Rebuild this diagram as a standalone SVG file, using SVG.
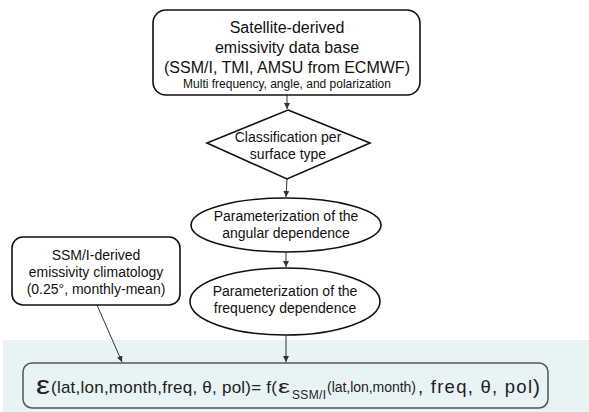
<svg xmlns="http://www.w3.org/2000/svg" width="589" height="412" viewBox="0 0 589 412">
<style>
text{font-family:"Liberation Sans",Arial,sans-serif;fill:#111;text-anchor:middle}
.shape{fill:#fff;stroke:#111;stroke-width:1.6}
.conn{stroke:#333;stroke-width:1;fill:none}
.t16{font-size:16px}
.t14{font-size:14px}
.t12{font-size:12px}
.eq{text-anchor:start;fill:#222}
</style>
<defs>
<marker id="ah" viewBox="0 0 10 10" refX="10" refY="5" markerWidth="6" markerHeight="6" orient="auto" markerUnits="userSpaceOnUse">
<path d="M0,0 L10,5 L0,10 z" fill="#333"/>
</marker>
</defs>
<rect x="3" y="340" width="586" height="72" fill="#e7f3f5"/>
<g id="connectors">
<line class="conn" x1="287" y1="95" x2="287" y2="109" marker-end="url(#ah)"/>
<line class="conn" x1="287" y1="179" x2="286" y2="197" marker-end="url(#ah)"/>
<line class="conn" x1="286" y1="252" x2="286" y2="267" marker-end="url(#ah)"/>
<line class="conn" x1="286" y1="335" x2="286" y2="362" marker-end="url(#ah)" stroke="#555"/>
<line class="conn" x1="97" y1="305" x2="122" y2="362" marker-end="url(#ah)" stroke="#555"/>
</g>
<g id="source">
<rect class="shape" x="153" y="10" width="267" height="85" rx="13"/>
<text class="t16" x="287" y="33">Satellite-derived</text>
<text class="t16" x="287" y="53">emissivity data base</text>
<text class="t16" x="287" y="73">(SSM/I, TMI, AMSU from ECMWF)</text>
<text class="t12" x="287" y="88">Multi frequency, angle, and polarization</text>
</g>
<g id="classification">
<polygon class="shape" points="288,110 370,143 287,179 207,143"/>
<text class="t14" x="288" y="142">Classification per</text>
<text class="t14" x="288" y="159">surface type</text>
</g>
<g id="angular">
<ellipse class="shape" cx="286" cy="225" rx="95" ry="27"/>
<text class="t14" x="286" y="221">Parameterization of the</text>
<text class="t14" x="286" y="238">angular dependence</text>
</g>
<g id="frequency">
<ellipse class="shape" cx="285" cy="301.5" rx="95" ry="33.5"/>
<text class="t14" x="285" y="296">Parameterization of the</text>
<text class="t14" x="285" y="313">frequency dependence</text>
</g>
<g id="climatology">
<rect class="shape" x="12" y="237" width="168" height="68" rx="11"/>
<text class="t14" x="96" y="260">SSM/I-derived</text>
<text class="t14" x="96" y="277">emissivity climatology</text>
<text class="t14" x="96" y="294">(0.25°, monthly-mean)</text>
</g>
<g id="equation">
<rect x="23" y="363" width="525" height="45" rx="9" fill="#e7f3f5" stroke="#555" stroke-width="1.5"/>
<text class="eq" x="36" y="394" font-size="26" textLength="14" lengthAdjust="spacingAndGlyphs">ε</text>
<text class="eq" x="51" y="393" font-size="17" textLength="226" lengthAdjust="spacing">(lat,lon,month,freq, θ, pol)= f(</text>
<text class="eq" x="278" y="393" font-size="18" textLength="12" lengthAdjust="spacingAndGlyphs">ε</text>
<text class="eq" x="292" y="399" font-size="12" textLength="34" lengthAdjust="spacing">SSM/I</text>
<text class="eq" x="327" y="392" font-size="14" textLength="89" lengthAdjust="spacing">(lat,lon,month)</text>
<text class="eq" x="418" y="393" font-size="18.5" textLength="114" lengthAdjust="spacing">, freq, θ, pol</text>
<text class="eq" x="533" y="394" font-size="21">)</text>
</g>
</svg>
